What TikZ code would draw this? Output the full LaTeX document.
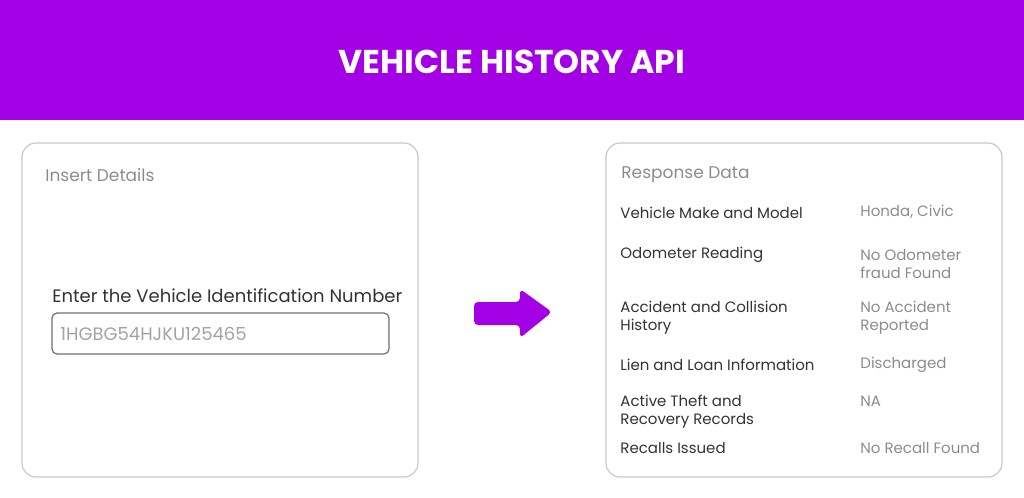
\documentclass[tikz,border=0pt]{standalone}
\usepackage{fontspec}
\setmainfont{Poppins}
\definecolor{apipurple}{HTML}{A300E6}
\definecolor{boxgray}{HTML}{C8C8C8}
\definecolor{labgray}{HTML}{8C8C8C}
\definecolor{txtdark}{HTML}{333333}
\begin{document}
\begin{tikzpicture}[x=0.5pt,y=-0.5pt,
  panel/.style={draw=boxgray,rounded corners=7pt,line width=0.6pt},
  heading/.style={anchor=west,text=labgray,font=\fontsize{8.5}{10}\selectfont,inner sep=0pt},
  field/.style={anchor=west,text=txtdark,font=\fontsize{7.5}{9}\selectfont,inner sep=0pt,align=left},
  answer/.style={anchor=west,text=labgray,font=\fontsize{7.5}{9}\selectfont,inner sep=0pt,align=left}]
\useasboundingbox (0,0) rectangle (1024,498);
\fill[apipurple] (0,0) rectangle (1024,120);
\node (title) at (512,62) [text=white,font=\bfseries\fontsize{16.5}{20}\selectfont]{VEHICLE HISTORY API};

% input side
\draw[panel] (22,143) rectangle (418,477);
\node (insert) at (45,175) [heading]{Insert Details};
\node (enter) at (52,296) [anchor=west,inner sep=0pt,text=txtdark,font=\fontsize{9}{11}\selectfont]{Enter the Vehicle Identification Number};
\draw[draw=txtdark!70,rounded corners=2.5pt,line width=0.6pt] (52,313) rectangle (389,354);
\node (vin) at (60,334) [anchor=west,inner sep=0pt,text=labgray!80,font=\fontsize{9}{11}\selectfont]{1HGBG54HJKU125465};

% arrow
\fill[apipurple,rounded corners=2pt] (474,302) -- (520,302) -- (520,289) -- (552,312) -- (520,338) -- (520,325) -- (474,325) -- cycle;

% response side
\draw[panel] (606,143) rectangle (1002,477);
\node (resp) at (621,175) [heading]{Response Data};
\node (make) at (620,213) [field]{Vehicle Make and Model};
\node (makev) at (860,212) [answer]{Honda, Civic};
\node (odo) at (620,255) [field]{Odometer Reading};
\node (odov) at (860,264) [answer]{No Odometer\\fraud Found};
\node (acc) at (620,318) [field]{Accident and Collision\\History};
\node (accv) at (860,318) [answer]{No Accident\\Reported};
\node (lien) at (620,365) [field]{Lien and Loan Information};
\node (lienv) at (860,365) [answer]{Discharged};
\node (theft) at (620,412) [field]{Active Theft and\\Recovery Records};
\node (theftv) at (860,401) [answer]{NA};
\node (recall) at (620,448) [field]{Recalls Issued};
\node (recallv) at (860,448) [answer]{No Recall Found};
\end{tikzpicture}
\end{document}
